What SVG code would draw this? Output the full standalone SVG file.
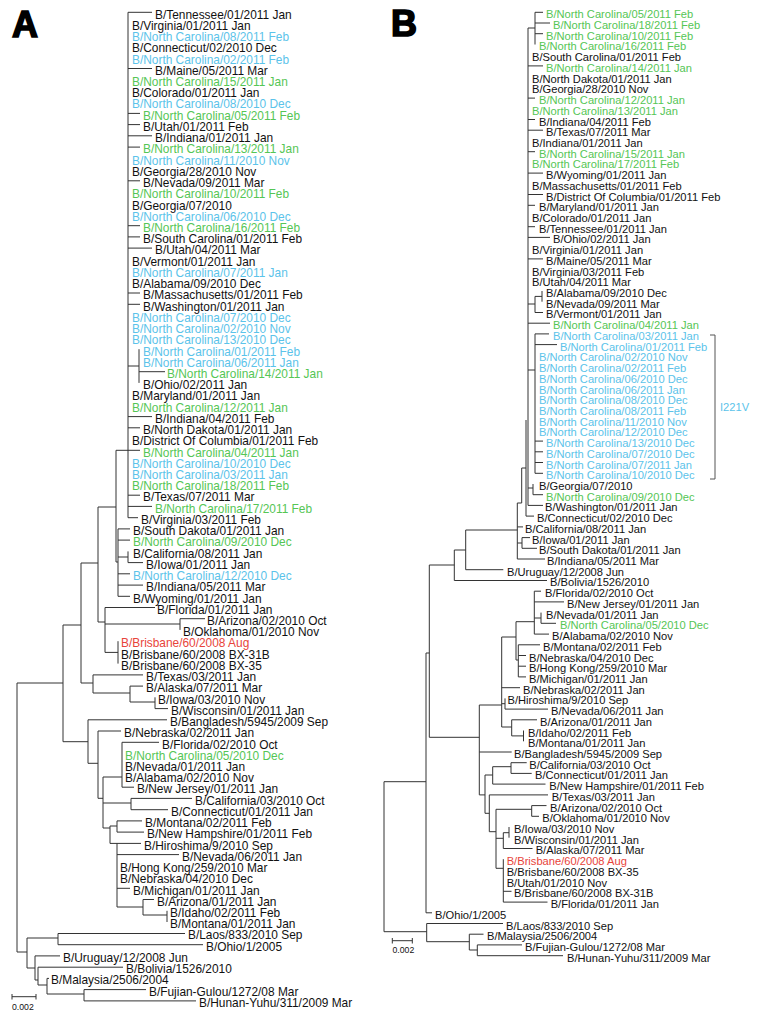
<svg xmlns="http://www.w3.org/2000/svg" width="768" height="1020" viewBox="0 0 768 1020">
<style>
.t{font-family:"Liberation Sans",Arial,sans-serif;font-size:11.9px;fill:#111}
.s{font-family:"Liberation Sans",Arial,sans-serif;font-size:11.15px;fill:#111}
.b{fill:#5bc3ea}.g{fill:#55c655}.r{fill:#e8443a}
.ln{fill:none;stroke:#333;stroke-width:1}
.big{font-family:"Liberation Sans",Arial,sans-serif;font-weight:bold;font-size:36px;fill:#000;stroke:#000;stroke-width:1.6}
.sc{font-family:"Liberation Sans",Arial,sans-serif;font-size:8.7px;fill:#111}
</style>
<rect width="768" height="1020" fill="#fff"/>
<text class="big" x="12" y="37">A</text>
<text class="big" x="391" y="36">B</text>
<g id="connectors-A">
<path class="ln" d="M128 12.3V517.7M128 12.3H152M128 68.5H152M128 113.4H140M128 124.6H140M128 135.8H152M128 147.1H140M128 180.8H140M128 225.7H140M128 236.9H140M128 248.1H152M128 293H140M128 304.3H140M139 349.2V382.9M128 366H139M139 371.7H165M128 416.6H152M128 427.8H140M128 450.3H140M128 495.2H140M128 506.4H152M128 517.7H138M116 450.3H128M116 450.3V562M98 507H116M116 562H118M118 528.9V596.3M118 528.9H130M118 540.1H130M128 551.4V562.6M118 557H128M128 562.6H143M118 573.8H130M118 585.1H143M118 596.3H130M98 507V622M98 622H105M105 607.5V652.4M105 607.5H155M180 618.7V629.9M105 624H180M180 618.7H205M118 641.2V663.6M105 652.4H118M81 563H98M81 563V683M81 683H93M93 674.9V693M93 674.9H143M93 693H130M130 686.1V702M130 686.1H143M130 702H155M155 697.3V708.6M155 708.6H168M63 625H81M63 625V741.7M63 741.7H88M88 719.8V763.3M88 719.8H167M88 763.3H98M98 731V798.3M98 731H121M122 742.3V787.2M122 742.3H159M122 787.2H134M103 777H122M98 798.3H103M103 777V828M131 798.4V809.7M103 803H131M131 798.4H192M131 809.7H168M103 828H110M110 826V843.4M117 820.9V832.1M110 826H117M117 820.9H142M117 832.1H144M110 843.4H141M117 843.4V907M117 854.6H179M117 888.3H130M143 899.5V915M117 907H143M143 899.5H154M167 910.8V922M143 915H167M17 683V952M17 683H63M17 952H27M27 938V968M58 933.5V944.7M27 938H58M58 933.5H185M58 944.7H203M27 968H35M35 955.9V980M35 955.9H60M35 980H38M38 967.2V985M38 967.2H123M38 985H47M47 978.4V994M47 978.4H49M47 994H84M84 989.6V1000.9M84 989.6H146M84 1000.9H196"/>
<path class="ln" d="M12 996.7H36M12 994V999.5M36 994V999.5"/>
</g>
<text class="sc" x="12" y="1010">0.002</text>
<g id="connectors-B">
<path class="ln" d="M528 28V505.4M535 12.3V44.5M528 28H535M535 12.3H543M535 23H550M535 33.7H543M528 65.9H543M528 98.1H535M528 119.5H535M528 130.2H543M528 151.7H535M528 173.1H543M528 194.5H543M528 205.3H535M528 226.7H535M528 237.4H550M528 258.9H543M542 291V301.7M535 296.4H542M535 296.4V312.5M528 304H535M535 312.5H543M528 323.2H550M535 333.9V473.3M528 370H535M535 333.9H549M535 344.6H557M535 441.1H543M535 451.8H543M535 462.5H543M535 473.3H543M533 484V494.7M528 488H533M533 494.7H543M528 505.4H543M526 420V516.1M526 516.1H534M521.7 468H526M521.7 468V503M517.3 503H521.7M517.3 503V559M517.3 526.9H523M522 537.6V548.3M517.3 543H522M522 537.6H530M522 548.3H537M517.3 559H545M465.7 530H517.3M465.7 530V569.7M465.7 569.7H503.3M454.3 550H465.7M454.3 550V580.5M454.3 580.5H547M429.3 565H454.3M429.3 565V737.3M429.3 737.3H479.3M426 653H429.3M426 653V912.8M426 912.8H432M384 781.7H426M384 781.7V931.7M384 931.7H426.7M426.7 923.5V941.7M426.7 923.5H503M426.7 941.7H469.3M469.3 934.2V950M469.3 934.2H483.5M469.3 950H477.3M477.3 944.9V955.7M477.3 944.9H522M477.3 955.7H563M479.3 705V794.9M479.3 705H501.7M501.7 637V727M501.7 637H516M516 621.7V660M516 621.7H534.3M534.3 591.2V634.1M534.3 591.2H541M534.3 601.9H564M541 612.6V623.3M534.3 618H541M541 623.3H556M534.3 634.1H549M516 660H518.3M518.3 644.8V676.9M518.3 644.8H540M518.3 655.5H526M518.3 666.2H526M518.3 676.9H526M501.7 687.7H520M505 698.4V709.1M501.7 703.7H505M505 709.1H548M511.7 719.8V735.9M501.7 727H511.7M511.7 719.8H537M523.5 730.5V741.3M511.7 735.9H523.5M479.3 752H511.7M479.3 794.9H485M485 775V813.3M485 775H492.7M492.7 766.7V784.1M492.7 766.7H511M511 762.7V773.4M511 762.7H526.7M511 773.4H531.7M492.7 784.1H545.5M485 813.3H489.3M489.3 794.9V831.7M489.3 794.9H548M489.3 831.7H496M496 809.3V868.3M496 809.3H531.7M531.7 805.6V816.3M531.7 805.6H546.5M531.7 816.3H539M496 838.3H503.3M503.3 832.7V848.5M503.3 832.7H509M509 827V837.7M503.3 848.5H532.5M496 868.3H503.3M503.3 859.2V902.1M503.3 891.3H511.5M503.3 902.1H547.5"/>
<path class="ln" d="M392.3 940.7H412.3M392.3 938V943.5M412.3 938V943.5"/>
<path fill="none" stroke="#555" stroke-width="1" d="M710 335H715V479H710"/>
</g>
<text class="sc" x="392.5" y="952.5">0.002</text>
<g id="a01"><text class="t" x="155" y="18.6">B/Tennessee/01/2011 Jan</text></g>
<g id="a02"><text class="t" x="132" y="29.83">B/Virginia/01/2011 Jan</text></g>
<g id="a03"><text class="t b" x="132" y="41.06">B/North Carolina/08/2011 Feb</text></g>
<g id="a04"><text class="t" x="132" y="52.29">B/Connecticut/02/2010 Dec</text></g>
<g id="a05"><text class="t b" x="132" y="63.52">B/North Carolina/02/2011 Feb</text></g>
<g id="a06"><text class="t" x="155" y="74.75">B/Maine/05/2011 Mar</text></g>
<g id="a07"><text class="t g" x="132" y="85.98">B/North Carolina/15/2011 Jan</text></g>
<g id="a08"><text class="t" x="132" y="97.21">B/Colorado/01/2011 Jan</text></g>
<g id="a09"><text class="t b" x="132" y="108.44">B/North Carolina/08/2010 Dec</text></g>
<g id="a10"><text class="t g" x="143" y="119.67">B/North Carolina/05/2011 Feb</text></g>
<g id="a11"><text class="t" x="143" y="130.9">B/Utah/01/2011 Feb</text></g>
<g id="a12"><text class="t" x="155" y="142.13">B/Indiana/01/2011 Jan</text></g>
<g id="a13"><text class="t g" x="143" y="153.36">B/North Carolina/13/2011 Jan</text></g>
<g id="a14"><text class="t b" x="132" y="164.59">B/North Carolina/11/2010 Nov</text></g>
<g id="a15"><text class="t" x="132" y="175.82">B/Georgia/28/2010 Nov</text></g>
<g id="a16"><text class="t" x="143" y="187.05">B/Nevada/09/2011 Mar</text></g>
<g id="a17"><text class="t g" x="132" y="198.28">B/North Carolina/10/2011 Feb</text></g>
<g id="a18"><text class="t" x="132" y="209.51">B/Georgia/07/2010</text></g>
<g id="a19"><text class="t b" x="132" y="220.74">B/North Carolina/06/2010 Dec</text></g>
<g id="a20"><text class="t g" x="143" y="231.97">B/North Carolina/16/2011 Feb</text></g>
<g id="a21"><text class="t" x="143" y="243.2">B/South Carolina/01/2011 Feb</text></g>
<g id="a22"><text class="t" x="155" y="254.43">B/Utah/04/2011 Mar</text></g>
<g id="a23"><text class="t" x="132" y="265.66">B/Vermont/01/2011 Jan</text></g>
<g id="a24"><text class="t b" x="132" y="276.89">B/North Carolina/07/2011 Jan</text></g>
<g id="a25"><text class="t" x="132" y="288.12">B/Alabama/09/2010 Dec</text></g>
<g id="a26"><text class="t" x="143" y="299.35">B/Massachusetts/01/2011 Feb</text></g>
<g id="a27"><text class="t" x="143" y="310.58">B/Washington/01/2011 Jan</text></g>
<g id="a28"><text class="t b" x="132" y="321.81">B/North Carolina/07/2010 Dec</text></g>
<g id="a29"><text class="t b" x="132" y="333.04">B/North Carolina/02/2010 Nov</text></g>
<g id="a30"><text class="t b" x="132" y="344.27">B/North Carolina/13/2010 Dec</text></g>
<g id="a31"><text class="t b" x="143" y="355.5">B/North Carolina/01/2011 Feb</text></g>
<g id="a32"><text class="t b" x="143" y="366.73">B/North Carolina/06/2011 Jan</text></g>
<g id="a33"><text class="t g" x="167" y="377.96">B/North Carolina/14/2011 Jan</text></g>
<g id="a34"><text class="t" x="143" y="389.19">B/Ohio/02/2011 Jan</text></g>
<g id="a35"><text class="t" x="132" y="400.42">B/Maryland/01/2011 Jan</text></g>
<g id="a36"><text class="t g" x="132" y="411.65">B/North Carolina/12/2011 Jan</text></g>
<g id="a37"><text class="t" x="155" y="422.88">B/Indiana/04/2011 Feb</text></g>
<g id="a38"><text class="t" x="143" y="434.11">B/North Dakota/01/2011 Jan</text></g>
<g id="a39"><text class="t" x="132" y="445.34">B/District Of Columbia/01/2011 Feb</text></g>
<g id="a40"><text class="t g" x="143" y="456.57">B/North Carolina/04/2011 Jan</text></g>
<g id="a41"><text class="t b" x="132" y="467.8">B/North Carolina/10/2010 Dec</text></g>
<g id="a42"><text class="t b" x="132" y="479.03">B/North Carolina/03/2011 Jan</text></g>
<g id="a43"><text class="t g" x="132" y="490.26">B/North Carolina/18/2011 Feb</text></g>
<g id="a44"><text class="t" x="143" y="501.49">B/Texas/07/2011 Mar</text></g>
<g id="a45"><text class="t g" x="155" y="512.72">B/North Carolina/17/2011 Feb</text></g>
<g id="a46"><text class="t" x="141" y="523.95">B/Virginia/03/2011 Feb</text></g>
<g id="a47"><text class="t" x="133" y="535.18">B/South Dakota/01/2011 Jan</text></g>
<g id="a48"><text class="t g" x="133" y="546.41">B/North Carolina/09/2010 Dec</text></g>
<g id="a49"><text class="t" x="133" y="557.64">B/California/08/2011 Jan</text></g>
<g id="a50"><text class="t" x="146" y="568.87">B/Iowa/01/2011 Jan</text></g>
<g id="a51"><text class="t b" x="133" y="580.1">B/North Carolina/12/2010 Dec</text></g>
<g id="a52"><text class="t" x="146" y="591.33">B/Indiana/05/2011 Mar</text></g>
<g id="a53"><text class="t" x="133" y="602.56">B/Wyoming/01/2011 Jan</text></g>
<g id="a54"><text class="t" x="157" y="613.79">B/Florida/01/2011 Jan</text></g>
<g id="a55"><text class="t" x="207" y="625.02">B/Arizona/02/2010 Oct</text></g>
<g id="a56"><text class="t" x="183" y="636.25">B/Oklahoma/01/2010 Nov</text></g>
<g id="a57"><text class="t r" x="121" y="647.48">B/Brisbane/60/2008 Aug</text></g>
<g id="a58"><text class="t" x="121" y="658.71">B/Brisbane/60/2008 BX-31B</text></g>
<g id="a59"><text class="t" x="121" y="669.94">B/Brisbane/60/2008 BX-35</text></g>
<g id="a60"><text class="t" x="146" y="681.17">B/Texas/03/2011 Jan</text></g>
<g id="a61"><text class="t" x="146" y="692.4">B/Alaska/07/2011 Mar</text></g>
<g id="a62"><text class="t" x="158" y="703.63">B/Iowa/03/2010 Nov</text></g>
<g id="a63"><text class="t" x="171" y="714.86">B/Wisconsin/01/2011 Jan</text></g>
<g id="a64"><text class="t" x="170" y="726.09">B/Bangladesh/5945/2009 Sep</text></g>
<g id="a65"><text class="t" x="124" y="737.32">B/Nebraska/02/2011 Jan</text></g>
<g id="a66"><text class="t" x="162" y="748.55">B/Florida/02/2010 Oct</text></g>
<g id="a67"><text class="t g" x="125" y="759.78">B/North Carolina/05/2010 Dec</text></g>
<g id="a68"><text class="t" x="125" y="771.01">B/Nevada/01/2011 Jan</text></g>
<g id="a69"><text class="t" x="125" y="782.24">B/Alabama/02/2010 Nov</text></g>
<g id="a70"><text class="t" x="137" y="793.47">B/New Jersey/01/2011 Jan</text></g>
<g id="a71"><text class="t" x="195" y="804.7">B/California/03/2010 Oct</text></g>
<g id="a72"><text class="t" x="171" y="815.93">B/Connecticut/01/2011 Jan</text></g>
<g id="a73"><text class="t" x="145" y="827.16">B/Montana/02/2011 Feb</text></g>
<g id="a74"><text class="t" x="147" y="838.39">B/New Hampshire/01/2011 Feb</text></g>
<g id="a75"><text class="t" x="144" y="849.62">B/Hiroshima/9/2010 Sep</text></g>
<g id="a76"><text class="t" x="182" y="860.85">B/Nevada/06/2011 Jan</text></g>
<g id="a77"><text class="t" x="120" y="872.08">B/Hong Kong/259/2010 Mar</text></g>
<g id="a78"><text class="t" x="120" y="883.31">B/Nebraska/04/2010 Dec</text></g>
<g id="a79"><text class="t" x="133" y="894.54">B/Michigan/01/2011 Jan</text></g>
<g id="a80"><text class="t" x="157" y="905.77">B/Arizona/01/2011 Jan</text></g>
<g id="a81"><text class="t" x="170" y="917">B/Idaho/02/2011 Feb</text></g>
<g id="a82"><text class="t" x="170" y="928.23">B/Montana/01/2011 Jan</text></g>
<g id="a83"><text class="t" x="188" y="939.46">B/Laos/833/2010 Sep</text></g>
<g id="a84"><text class="t" x="206" y="950.69">B/Ohio/1/2005</text></g>
<g id="a85"><text class="t" x="63" y="961.92">B/Uruguay/12/2008 Jun</text></g>
<g id="a86"><text class="t" x="126" y="973.15">B/Bolivia/1526/2010</text></g>
<g id="a87"><text class="t" x="51" y="984.38">B/Malaysia/2506/2004</text></g>
<g id="a88"><text class="t" x="149" y="995.61">B/Fujian-Gulou/1272/08 Mar</text></g>
<g id="a89"><text class="t" x="199" y="1006.84">B/Hunan-Yuhu/311/2009 Mar</text></g>
<g id="b01"><text class="s g" x="546" y="18.3">B/North Carolina/05/2011 Feb</text></g>
<g id="b02"><text class="s g" x="553" y="29.02">B/North Carolina/18/2011 Feb</text></g>
<g id="b03"><text class="s g" x="546" y="39.74">B/North Carolina/10/2011 Feb</text></g>
<g id="b04"><text class="s g" x="539" y="50.46">B/North Carolina/16/2011 Feb</text></g>
<g id="b05"><text class="s" x="532" y="61.18">B/South Carolina/01/2011 Feb</text></g>
<g id="b06"><text class="s g" x="546" y="71.9">B/North Carolina/14/2011 Jan</text></g>
<g id="b07"><text class="s" x="532" y="82.62">B/North Dakota/01/2011 Jan</text></g>
<g id="b08"><text class="s" x="532" y="93.34">B/Georgia/28/2010 Nov</text></g>
<g id="b09"><text class="s g" x="539" y="104.06">B/North Carolina/12/2011 Jan</text></g>
<g id="b10"><text class="s g" x="532" y="114.78">B/North Carolina/13/2011 Jan</text></g>
<g id="b11"><text class="s" x="539" y="125.5">B/Indiana/04/2011 Feb</text></g>
<g id="b12"><text class="s" x="546" y="136.22">B/Texas/07/2011 Mar</text></g>
<g id="b13"><text class="s" x="532" y="146.94">B/Indiana/01/2011 Jan</text></g>
<g id="b14"><text class="s g" x="539" y="157.66">B/North Carolina/15/2011 Jan</text></g>
<g id="b15"><text class="s g" x="532" y="168.38">B/North Carolina/17/2011 Feb</text></g>
<g id="b16"><text class="s" x="546" y="179.1">B/Wyoming/01/2011 Jan</text></g>
<g id="b17"><text class="s" x="532" y="189.82">B/Massachusetts/01/2011 Feb</text></g>
<g id="b18"><text class="s" x="546" y="200.54">B/District Of Columbia/01/2011 Feb</text></g>
<g id="b19"><text class="s" x="539" y="211.26">B/Maryland/01/2011 Jan</text></g>
<g id="b20"><text class="s" x="532" y="221.98">B/Colorado/01/2011 Jan</text></g>
<g id="b21"><text class="s" x="539" y="232.7">B/Tennessee/01/2011 Jan</text></g>
<g id="b22"><text class="s" x="553" y="243.42">B/Ohio/02/2011 Jan</text></g>
<g id="b23"><text class="s" x="532" y="254.14">B/Virginia/01/2011 Jan</text></g>
<g id="b24"><text class="s" x="546" y="264.86">B/Maine/05/2011 Mar</text></g>
<g id="b25"><text class="s" x="532" y="275.58">B/Virginia/03/2011 Feb</text></g>
<g id="b26"><text class="s" x="532" y="286.3">B/Utah/04/2011 Mar</text></g>
<g id="b27"><text class="s" x="546" y="297.02">B/Alabama/09/2010 Dec</text></g>
<g id="b28"><text class="s" x="546" y="307.74">B/Nevada/09/2011 Mar</text></g>
<g id="b29"><text class="s" x="546" y="318.46">B/Vermont/01/2011 Jan</text></g>
<g id="b30"><text class="s g" x="553" y="329.18">B/North Carolina/04/2011 Jan</text></g>
<g id="b31"><text class="s b" x="553" y="339.9">B/North Carolina/03/2011 Jan</text></g>
<g id="b32"><text class="s b" x="560" y="350.62">B/North Carolina/01/2011 Feb</text></g>
<g id="b33"><text class="s b" x="539" y="361.34">B/North Carolina/02/2010 Nov</text></g>
<g id="b34"><text class="s b" x="539" y="372.06">B/North Carolina/02/2011 Feb</text></g>
<g id="b35"><text class="s b" x="539" y="382.78">B/North Carolina/06/2010 Dec</text></g>
<g id="b36"><text class="s b" x="539" y="393.5">B/North Carolina/06/2011 Jan</text></g>
<g id="b37"><text class="s b" x="539" y="404.22">B/North Carolina/08/2010 Dec</text></g>
<g id="b38"><text class="s b" x="539" y="414.94">B/North Carolina/08/2011 Feb</text></g>
<g id="b39"><text class="s b" x="539" y="425.66">B/North Carolina/11/2010 Nov</text></g>
<g id="b40"><text class="s b" x="539" y="436.38">B/North Carolina/12/2010 Dec</text></g>
<g id="b41"><text class="s b" x="546" y="447.1">B/North Carolina/13/2010 Dec</text></g>
<g id="b42"><text class="s b" x="546" y="457.82">B/North Carolina/07/2010 Dec</text></g>
<g id="b43"><text class="s b" x="546" y="468.54">B/North Carolina/07/2011 Jan</text></g>
<g id="b44"><text class="s b" x="546" y="479.26">B/North Carolina/10/2010 Dec</text></g>
<g id="i221v"><text class="s b" x="720" y="410.7">I221V</text></g>
<g id="b45"><text class="s" x="539" y="489.98">B/Georgia/07/2010</text></g>
<g id="b46"><text class="s g" x="546" y="500.7">B/North Carolina/09/2010 Dec</text></g>
<g id="b47"><text class="s" x="545" y="511.42">B/Washington/01/2011 Jan</text></g>
<g id="b48"><text class="s" x="537" y="522.14">B/Connecticut/02/2010 Dec</text></g>
<g id="b49"><text class="s" x="525" y="532.86">B/California/08/2011 Jan</text></g>
<g id="b50"><text class="s" x="532" y="543.58">B/Iowa/01/2011 Jan</text></g>
<g id="b51"><text class="s" x="539" y="554.3">B/South Dakota/01/2011 Jan</text></g>
<g id="b52"><text class="s" x="547" y="565.02">B/Indiana/05/2011 Mar</text></g>
<g id="b53"><text class="s" x="507" y="575.74">B/Uruguay/12/2008 Jun</text></g>
<g id="b54"><text class="s" x="550" y="586.46">B/Bolivia/1526/2010</text></g>
<g id="b55"><text class="s" x="545" y="597.18">B/Florida/02/2010 Oct</text></g>
<g id="b56"><text class="s" x="567" y="607.9">B/New Jersey/01/2011 Jan</text></g>
<g id="b57"><text class="s" x="546" y="618.62">B/Nevada/01/2011 Jan</text></g>
<g id="b58"><text class="s g" x="560" y="629.34">B/North Carolina/05/2010 Dec</text></g>
<g id="b59"><text class="s" x="552" y="640.06">B/Alabama/02/2010 Nov</text></g>
<g id="b60"><text class="s" x="543" y="650.78">B/Montana/02/2011 Feb</text></g>
<g id="b61"><text class="s" x="529" y="661.5">B/Nebraska/04/2010 Dec</text></g>
<g id="b62"><text class="s" x="529" y="672.22">B/Hong Kong/259/2010 Mar</text></g>
<g id="b63"><text class="s" x="529" y="682.94">B/Michigan/01/2011 Jan</text></g>
<g id="b64"><text class="s" x="523" y="693.66">B/Nebraska/02/2011 Jan</text></g>
<g id="b65"><text class="s" x="507.5" y="704.38">B/Hiroshima/9/2010 Sep</text></g>
<g id="b66"><text class="s" x="551" y="715.1">B/Nevada/06/2011 Jan</text></g>
<g id="b67"><text class="s" x="540" y="725.82">B/Arizona/01/2011 Jan</text></g>
<g id="b68"><text class="s" x="528" y="736.54">B/Idaho/02/2011 Feb</text></g>
<g id="b69"><text class="s" x="528" y="747.26">B/Montana/01/2011 Jan</text></g>
<g id="b70"><text class="s" x="514" y="757.98">B/Bangladesh/5945/2009 Sep</text></g>
<g id="b71"><text class="s" x="529.3" y="768.7">B/California/03/2010 Oct</text></g>
<g id="b72"><text class="s" x="535" y="779.42">B/Connecticut/01/2011 Jan</text></g>
<g id="b73"><text class="s" x="549.3" y="790.14">B/New Hampshire/01/2011 Feb</text></g>
<g id="b74"><text class="s" x="551.7" y="800.86">B/Texas/03/2011 Jan</text></g>
<g id="b75"><text class="s" x="550" y="811.58">B/Arizona/02/2010 Oct</text></g>
<g id="b76"><text class="s" x="542.3" y="822.3">B/Oklahoma/01/2010 Nov</text></g>
<g id="b77"><text class="s" x="514" y="833.02">B/Iowa/03/2010 Nov</text></g>
<g id="b78"><text class="s" x="514" y="843.74">B/Wisconsin/01/2011 Jan</text></g>
<g id="b79"><text class="s" x="535.7" y="854.46">B/Alaska/07/2011 Mar</text></g>
<g id="b80"><text class="s r" x="506.7" y="865.18">B/Brisbane/60/2008 Aug</text></g>
<g id="b81"><text class="s" x="506.7" y="875.9">B/Brisbane/60/2008 BX-35</text></g>
<g id="b82"><text class="s" x="506.7" y="886.62">B/Utah/01/2010 Nov</text></g>
<g id="b83"><text class="s" x="514" y="897.34">B/Brisbane/60/2008 BX-31B</text></g>
<g id="b84"><text class="s" x="550.7" y="908.06">B/Florida/01/2011 Jan</text></g>
<g id="b85"><text class="s" x="435" y="918.78">B/Ohio/1/2005</text></g>
<g id="b86"><text class="s" x="506" y="929.5">B/Laos/833/2010 Sep</text></g>
<g id="b87"><text class="s" x="487" y="940.22">B/Malaysia/2506/2004</text></g>
<g id="b88"><text class="s" x="525" y="950.94">B/Fujian-Gulou/1272/08 Mar</text></g>
<g id="b89"><text class="s" x="567" y="961.66">B/Hunan-Yuhu/311/2009 Mar</text></g>
</svg>
